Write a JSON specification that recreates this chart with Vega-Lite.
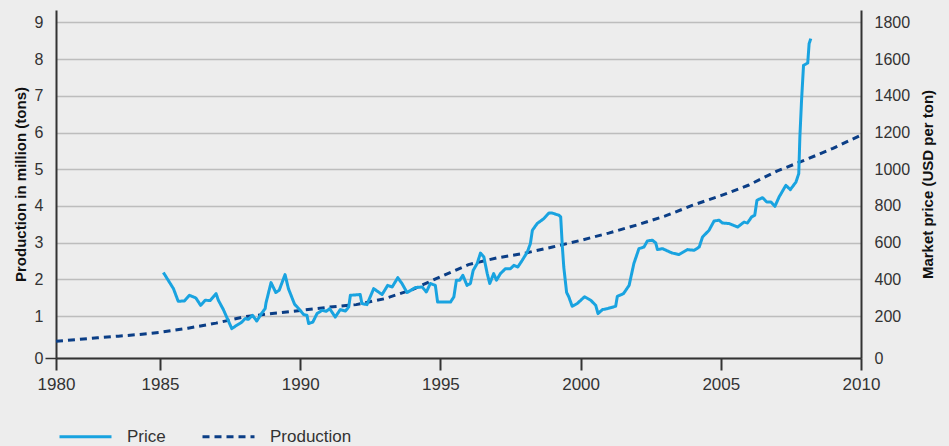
{
 "$schema": "https://vega.github.io/schema/vega-lite/v6.json",
 "width": 805,
 "height": 348,
 "autosize": "none",
 "padding": {"left": 56, "top": 10, "right": 88, "bottom": 88},
 "background": "#ededed",
 "config": {"font": "Liberation Sans", "view": {"stroke": null}},
 "datasets": {
  "price": [
   {"year":1985.12,"value":437,"series":"Price"},{"year":1985.48,"value":349,"series":"Price"},{"year":1985.65,"value":280,"series":"Price"},{"year":1985.87,"value":282,"series":"Price"},{"year":1986.05,"value":313,"series":"Price"},{"year":1986.28,"value":298,"series":"Price"},{"year":1986.45,"value":258,"series":"Price"},{"year":1986.61,"value":286,"series":"Price"},{"year":1986.79,"value":284,"series":"Price"},{"year":1987.0,"value":322,"series":"Price"},{"year":1987.08,"value":286,"series":"Price"},{"year":1987.26,"value":235,"series":"Price"},{"year":1987.56,"value":140,"series":"Price"},{"year":1987.74,"value":156,"series":"Price"},{"year":1987.92,"value":171,"series":"Price"},{"year":1988.04,"value":188,"series":"Price"},{"year":1988.15,"value":184,"series":"Price"},{"year":1988.3,"value":204,"series":"Price"},{"year":1988.45,"value":176,"series":"Price"},{"year":1988.63,"value":216,"series":"Price"},{"year":1988.75,"value":240,"series":"Price"},{"year":1988.78,"value":271,"series":"Price"},{"year":1988.96,"value":382,"series":"Price"},{"year":1989.13,"value":328,"series":"Price"},{"year":1989.25,"value":340,"series":"Price"},{"year":1989.46,"value":426,"series":"Price"},{"year":1989.58,"value":349,"series":"Price"},{"year":1989.8,"value":264,"series":"Price"},{"year":1990.0,"value":231,"series":"Price"},{"year":1990.12,"value":208,"series":"Price"},{"year":1990.24,"value":204,"series":"Price"},{"year":1990.3,"value":164,"series":"Price"},{"year":1990.45,"value":171,"series":"Price"},{"year":1990.6,"value":213,"series":"Price"},{"year":1990.78,"value":231,"series":"Price"},{"year":1990.93,"value":226,"series":"Price"},{"year":1991.05,"value":240,"series":"Price"},{"year":1991.25,"value":195,"series":"Price"},{"year":1991.43,"value":235,"series":"Price"},{"year":1991.61,"value":227,"series":"Price"},{"year":1991.73,"value":249,"series":"Price"},{"year":1991.79,"value":313,"series":"Price"},{"year":1992.14,"value":317,"series":"Price"},{"year":1992.2,"value":268,"series":"Price"},{"year":1992.38,"value":262,"series":"Price"},{"year":1992.62,"value":349,"series":"Price"},{"year":1992.92,"value":317,"series":"Price"},{"year":1993.12,"value":367,"series":"Price"},{"year":1993.28,"value":358,"series":"Price"},{"year":1993.48,"value":409,"series":"Price"},{"year":1993.63,"value":377,"series":"Price"},{"year":1993.81,"value":328,"series":"Price"},{"year":1994.11,"value":355,"series":"Price"},{"year":1994.35,"value":358,"series":"Price"},{"year":1994.5,"value":331,"series":"Price"},{"year":1994.64,"value":377,"series":"Price"},{"year":1994.82,"value":367,"series":"Price"},{"year":1994.9,"value":276,"series":"Price"},{"year":1995.36,"value":276,"series":"Price"},{"year":1995.48,"value":304,"series":"Price"},{"year":1995.57,"value":395,"series":"Price"},{"year":1995.69,"value":395,"series":"Price"},{"year":1995.8,"value":422,"series":"Price"},{"year":1995.95,"value":367,"series":"Price"},{"year":1996.07,"value":377,"series":"Price"},{"year":1996.17,"value":449,"series":"Price"},{"year":1996.31,"value":486,"series":"Price"},{"year":1996.43,"value":543,"series":"Price"},{"year":1996.55,"value":522,"series":"Price"},{"year":1996.67,"value":431,"series":"Price"},{"year":1996.76,"value":377,"series":"Price"},{"year":1996.9,"value":431,"series":"Price"},{"year":1997.0,"value":395,"series":"Price"},{"year":1997.14,"value":431,"series":"Price"},{"year":1997.32,"value":458,"series":"Price"},{"year":1997.5,"value":458,"series":"Price"},{"year":1997.62,"value":476,"series":"Price"},{"year":1997.76,"value":467,"series":"Price"},{"year":1997.92,"value":504,"series":"Price"},{"year":1998.1,"value":549,"series":"Price"},{"year":1998.21,"value":595,"series":"Price"},{"year":1998.28,"value":667,"series":"Price"},{"year":1998.45,"value":704,"series":"Price"},{"year":1998.69,"value":731,"series":"Price"},{"year":1998.87,"value":761,"series":"Price"},{"year":1998.99,"value":761,"series":"Price"},{"year":1999.23,"value":749,"series":"Price"},{"year":1999.29,"value":740,"series":"Price"},{"year":1999.35,"value":576,"series":"Price"},{"year":1999.4,"value":467,"series":"Price"},{"year":1999.5,"value":329,"series":"Price"},{"year":1999.58,"value":304,"series":"Price"},{"year":1999.7,"value":253,"series":"Price"},{"year":1999.88,"value":268,"series":"Price"},{"year":2000.14,"value":305,"series":"Price"},{"year":2000.36,"value":286,"series":"Price"},{"year":2000.54,"value":258,"series":"Price"},{"year":2000.62,"value":213,"series":"Price"},{"year":2000.78,"value":235,"series":"Price"},{"year":2000.95,"value":240,"series":"Price"},{"year":2001.25,"value":253,"series":"Price"},{"year":2001.31,"value":307,"series":"Price"},{"year":2001.53,"value":322,"series":"Price"},{"year":2001.73,"value":367,"series":"Price"},{"year":2001.9,"value":486,"series":"Price"},{"year":2002.08,"value":567,"series":"Price"},{"year":2002.26,"value":576,"series":"Price"},{"year":2002.38,"value":609,"series":"Price"},{"year":2002.56,"value":613,"series":"Price"},{"year":2002.68,"value":598,"series":"Price"},{"year":2002.74,"value":562,"series":"Price"},{"year":2002.92,"value":567,"series":"Price"},{"year":2003.27,"value":543,"series":"Price"},{"year":2003.51,"value":535,"series":"Price"},{"year":2003.81,"value":562,"series":"Price"},{"year":2004.05,"value":558,"series":"Price"},{"year":2004.23,"value":576,"series":"Price"},{"year":2004.35,"value":631,"series":"Price"},{"year":2004.58,"value":667,"series":"Price"},{"year":2004.76,"value":718,"series":"Price"},{"year":2004.94,"value":722,"series":"Price"},{"year":2005.06,"value":707,"series":"Price"},{"year":2005.3,"value":704,"series":"Price"},{"year":2005.6,"value":685,"series":"Price"},{"year":2005.83,"value":712,"series":"Price"},{"year":2005.95,"value":707,"series":"Price"},{"year":2006.1,"value":740,"series":"Price"},{"year":2006.21,"value":749,"series":"Price"},{"year":2006.29,"value":831,"series":"Price"},{"year":2006.49,"value":845,"series":"Price"},{"year":2006.64,"value":821,"series":"Price"},{"year":2006.79,"value":821,"series":"Price"},{"year":2006.93,"value":798,"series":"Price"},{"year":2007.08,"value":849,"series":"Price"},{"year":2007.32,"value":912,"series":"Price"},{"year":2007.48,"value":889,"series":"Price"},{"year":2007.68,"value":930,"series":"Price"},{"year":2007.78,"value":976,"series":"Price"},{"year":2007.82,"value":1176,"series":"Price"},{"year":2007.88,"value":1376,"series":"Price"},{"year":2007.95,"value":1566,"series":"Price"},{"year":2008.1,"value":1579,"series":"Price"},{"year":2008.15,"value":1685,"series":"Price"},{"year":2008.21,"value":1712,"series":"Price"}
  ],
  "prod": [
   {"year":1980,"value":0.40,"series":"Production"},{"year":1981,"value":0.44,"series":"Production"},{"year":1982,"value":0.48,"series":"Production"},{"year":1983,"value":0.52,"series":"Production"},{"year":1984,"value":0.56,"series":"Production"},{"year":1985,"value":0.61,"series":"Production"},{"year":1986,"value":0.71,"series":"Production"},{"year":1987,"value":0.83,"series":"Production"},{"year":1988,"value":0.98,"series":"Production"},{"year":1989,"value":1.07,"series":"Production"},{"year":1990,"value":1.15,"series":"Production"},{"year":1991,"value":1.24,"series":"Production"},{"year":1992,"value":1.31,"series":"Production"},{"year":1993,"value":1.47,"series":"Production"},{"year":1994,"value":1.72,"series":"Production"},{"year":1995,"value":2.07,"series":"Production"},{"year":1996,"value":2.40,"series":"Production"},{"year":1997,"value":2.58,"series":"Production"},{"year":1998,"value":2.71,"series":"Production"},{"year":1999,"value":2.88,"series":"Production"},{"year":2000,"value":3.06,"series":"Production"},{"year":2001,"value":3.26,"series":"Production"},{"year":2002,"value":3.48,"series":"Production"},{"year":2003,"value":3.72,"series":"Production"},{"year":2004,"value":4.02,"series":"Production"},{"year":2005,"value":4.28,"series":"Production"},{"year":2006,"value":4.57,"series":"Production"},{"year":2007,"value":4.95,"series":"Production"},{"year":2008,"value":5.25,"series":"Production"},{"year":2009,"value":5.57,"series":"Production"},{"year":2010,"value":5.93,"series":"Production"}
  ]
 },
 "layer": [
  {
   "data": {"name": "prod"},
   "mark": {"type": "line", "strokeWidth": 3},
   "encoding": {
    "x": {"field": "year", "type": "quantitative",
     "scale": {"domain": [1980, 1985, 2010], "range": [0, 104, 805], "nice": false, "zero": false},
     "axis": {"title": null, "values": [1980, 1985, 1990, 1995, 2000, 2005, 2010], "format": "d", "grid": false, "labelFontSize": 17, "labelColor": "#333", "labelPadding": 6, "tickSize": 12, "tickWidth": 2, "tickColor": "#333", "domainColor": "#333", "domainWidth": 2, "labelFlush": false}},
    "y": {"field": "value", "type": "quantitative",
     "scale": {"domain": [0, 1, 9.34], "range": [348, 306, 0], "nice": false, "zero": false},
     "axis": {"orient": "left", "values": [0,1,2,3,4,5,6,7,8,9], "format": "d", "title": "Production in million (tons)", "titleFontSize": 15, "titleFontWeight": "bold", "titleColor": "#111", "titlePadding": 6, "labelFontSize": 16, "labelColor": "#333", "labelPadding": 2, "tickSize": 11, "tickWidth": 1.5, "tickColor": {"condition": {"test": "datum.value === 0", "value": "#333"}, "value": "transparent"}, "grid": true, "gridColor": "#bdbdbd", "gridWidth": 1.5, "domainColor": "#333", "domainWidth": 2, "labelFlush": false}},
    "color": {"field": "series", "type": "nominal", "scale": {"domain": ["Price", "Production"], "range": ["#19a3e0", "#0b3e86"]},
     "legend": {"orient": "none", "legendX": 2, "legendY": 399, "direction": "horizontal", "title": null, "symbolType": "stroke", "symbolSize": 2704, "symbolStrokeWidth": 3, "labelFontSize": 17, "labelColor": "#333", "labelOffset": 14, "columnPadding": 30, "padding": 0}},
    "strokeDash": {"field": "series", "type": "nominal", "scale": {"domain": ["Price", "Production"], "range": [[1, 0], [7, 5]]},
     "legend": {"orient": "none", "legendX": 2, "legendY": 399, "direction": "horizontal", "title": null, "symbolType": "stroke", "symbolSize": 2704, "symbolStrokeWidth": 3, "labelFontSize": 17, "labelColor": "#333", "labelOffset": 14, "columnPadding": 30, "padding": 0}}
   }
  },
  {
   "data": {"name": "price"},
   "mark": {"type": "line", "strokeWidth": 3, "strokeJoin": "round"},
   "encoding": {
    "x": {"field": "year", "type": "quantitative"},
    "y": {"field": "value", "type": "quantitative",
     "scale": {"domain": [0, 200, 1868], "range": [348, 306, 0], "nice": false, "zero": false},
     "axis": {"orient": "right", "values": [0,200,400,600,800,1000,1200,1400,1600,1800], "format": "d", "title": "Market price (USD per ton)", "titleAngle": 270, "titleFontSize": 15, "titleFontWeight": "bold", "titleColor": "#111", "titlePadding": 26, "labelFontSize": 16, "labelColor": "#333", "ticks": false, "tickSize": 0, "labelPadding": 13, "grid": false, "domainColor": "#333", "domainWidth": 2, "labelFlush": false}},
    "color": {"field": "series", "type": "nominal"},
    "strokeDash": {"field": "series", "type": "nominal"}
   }
  }
 ],
 "resolve": {"scale": {"y": "independent"}, "axis": {"y": "independent"}}
}
